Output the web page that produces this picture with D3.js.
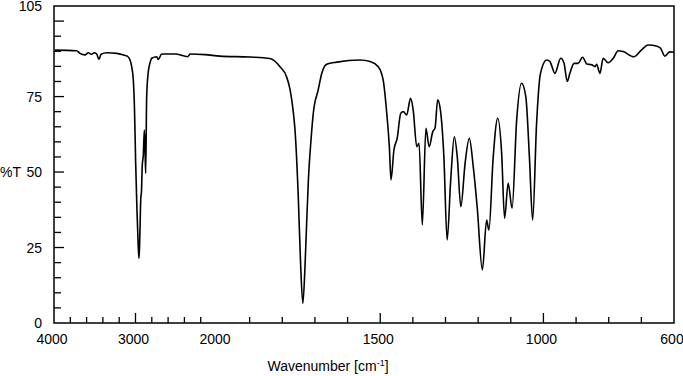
<!DOCTYPE html>
<html>
<head>
<script src="https://d3js.org/d3.v7.min.js"></script>
<style>
  body { margin: 0; background: #fff; }
  text { font-family: "Liberation Sans", Arial, sans-serif; font-size: 14px; fill: #000; }
</style>
</head>
<body>
<div id="chart"></div>
<script>
// spectrum: wavenumber (cm-1) and %T
var wavenumber = [3988, 3721, 3681, 3620, 3579, 3537, 3509, 3476, 3448, 3423, 3353, 3231, 3150, 3101, 3067, 3047,
  3027, 3012, 2998, 2982, 2967, 2957, 2948, 2936, 2926, 2917, 2904, 2892, 2883, 2875, 2863, 2843, 2822, 2801,
  2740, 2720, 2679, 2515, 2359, 2331, 2147, 1991, 1899, 1838, 1807, 1787, 1776, 1766, 1761, 1751, 1744, 1737,
  1730, 1725, 1720, 1712, 1705, 1690, 1679, 1664, 1633, 1562, 1531, 1506, 1491, 1480, 1472, 1467, 1458, 1448,
  1437, 1429, 1419, 1407, 1399, 1388, 1381, 1371, 1360, 1350, 1339, 1332, 1324, 1315, 1305, 1295, 1284, 1273,
  1264, 1253, 1240, 1227, 1215, 1203, 1187, 1174, 1167, 1154, 1140, 1128, 1119, 1108, 1096, 1082, 1067, 1054,
  1043, 1033, 1021, 1009, 990, 980, 965, 947, 937, 927, 919, 906, 894, 880, 867, 852, 842, 837, 827, 817, 802,
  786, 771, 756, 723, 700, 679, 652, 641, 628, 613, 600];
var transmittance = [90.4, 90.2, 89.3, 88.8, 89.5, 89.0, 89.5, 89.1, 87.3, 89.0, 89.5, 89.3, 88.8, 88.4, 87.1, 84.9,
  80.5, 70.6, 53.0, 37.4, 25.8, 21.4, 27.5, 40.7, 44.0, 52.3, 55.6, 63.9, 57.3, 49.6, 75.0, 83.2, 86.1, 87.7,
  88.2, 87.3, 89.1, 89.1, 88.2, 89.1, 88.9, 88.4, 88.1, 87.6, 84.9, 81.6, 77.2, 69.6, 63.9, 41.8, 19.9, 6.5,
  19.9, 34.1, 47.4, 60.6, 69.5, 77.2, 82.7, 85.7, 86.4, 87.1, 86.6, 84.9, 80.5, 69.5, 58.4, 47.4, 57.3, 61.2,
  69.5, 70.0, 68.9, 74.4, 70.6, 58.4, 59.5, 32.5, 64.5, 58.4, 63.4, 64.6, 73.9, 70.0, 55.1, 27.5, 47.4, 61.7,
  55.1, 38.5, 52.9, 61.2, 51.8, 38.5, 17.6, 34.1, 30.8, 54.7, 67.8, 56.2, 34.7, 46.3, 38.0, 67.2, 79.4, 75.0,
  55.1, 34.1, 66.1, 82.7, 87.1, 86.6, 82.7, 87.7, 86.1, 80.0, 82.7, 86.0, 86.0, 88.0, 85.8, 85.5, 84.9, 85.7,
  82.7, 87.7, 86.2, 87.7, 90.2, 89.9, 88.2, 90.4, 92.1, 91.7, 91.0, 88.4, 89.8, 89.7];

var xLabels = [4000, 3000, 2000, 1500, 1000, 600];
var yLabels = [0, 25, 50, 75, 105];

var w = 683, h = 376;
var mLeft = 54, mRight = 674, mTop = 6, mBottom = 323;

var svg = d3.select('#chart').append('svg').attr('width', w).attr('height', h);

// x axis is split: 4000-2000 compressed, 2000-600 expanded
var x = d3.scaleLinear().domain([4000, 2000, 600]).range([mLeft, 217, mRight]);
var y = d3.scaleLinear().domain([0, 105]).range([mBottom, mTop]);

// frame
svg.append('rect').attr('x', mLeft).attr('y', mTop).attr('width', mRight - mLeft).attr('height', mBottom - mTop)
  .attr('fill', 'none').attr('stroke', '#000').attr('stroke-width', 1.5);

// x ticks
var xMinor = d3.range(3800, 2000, -200).concat(d3.range(1900, 600, -100));
svg.selectAll('.xminor').data(xMinor).enter().append('line')
  .attr('x1', function(d) { return x(d); }).attr('x2', function(d) { return x(d); })
  .attr('y1', mBottom).attr('y2', function(d) { return xLabels.indexOf(d) >= 0 ? mBottom - 10 : mBottom - 6; })
  .attr('stroke', '#000').attr('stroke-width', 1.3);
svg.selectAll('.xlab').data(xLabels).enter().append('text')
  .attr('x', function(d) { return x(d) - 2; }).attr('y', mBottom + 21)
  .attr('text-anchor', 'middle').text(function(d) { return d; });

// y ticks
var yMinor = d3.range(5, 105, 5);
svg.selectAll('.yminor').data(yMinor).enter().append('line')
  .attr('x1', mLeft).attr('x2', function(d) { return d % 25 == 0 ? mLeft + 10 : mLeft + 7; })
  .attr('y1', function(d) { return y(d); }).attr('y2', function(d) { return y(d); })
  .attr('stroke', '#000').attr('stroke-width', 1.3);
svg.selectAll('.ylab').data(yLabels).enter().append('text')
  .attr('x', 42).attr('y', function(d) { return y(d) + 5; })
  .attr('text-anchor', 'end').text(function(d) { return d; });

// axis titles
svg.append('text').attr('x', 0).attr('y', 177).text('%T');
var title = svg.append('text').attr('x', 328).attr('y', 371).attr('text-anchor', 'middle');
title.append('tspan').text('Wavenumber [cm');
title.append('tspan').attr('dy', -5).style('font-size', '9px').text('-1');
title.append('tspan').attr('dy', 5).text(']');

// spectrum
var pts = wavenumber.map(function(d, i) { return [d, transmittance[i]]; });
var line = d3.line()
  .x(function(d) { return x(d[0]); })
  .y(function(d) { return y(d[1]); })
  .curve(d3.curveMonotoneX);
svg.append('path').datum(pts).attr('d', line)
  .attr('fill', 'none').attr('stroke', '#000').attr('stroke-width', 1.6);
</script>
</body>
</html>
